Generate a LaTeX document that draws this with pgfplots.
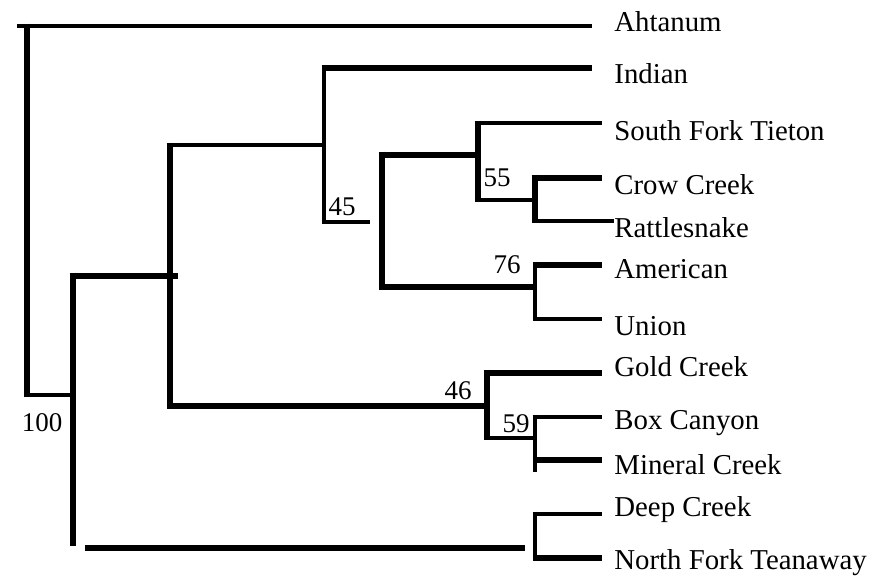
\documentclass[border=0pt]{standalone}
\usepackage{pgfplots}
\pgfplotsset{compat=1.18}
\usepackage{fontspec}
\setmainfont{Liberation Serif}
\begin{document}
\begin{tikzpicture}
\begin{axis}[
  scale only axis, width=440.5pt, height=290pt,
  xmin=0, xmax=881, ymin=0, ymax=580, y dir=reverse,
  axis line style={draw=none}, ticks=none, clip=false,
  tk/.style={black, line width=3.4pt, line cap=butt},
  tn/.style={black, line width=2.4pt, line cap=butt},
]
% root
\addplot[tn] coordinates {(17,26) (592,26)};
\addplot[tk] coordinates {(27,23.6) (27,397.4)};
\addplot[tn] coordinates {(23.6,395) (73,395)};
\addplot[tk] coordinates {(73,272.6) (73,546)};
\addplot[tk] coordinates {(69.6,276) (178,276)};
\addplot[tk] coordinates {(85,548) (525,548)};
% upper clade
\addplot[tk] coordinates {(170,142.6) (170,409.4)};
\addplot[tn] coordinates {(166.6,145) (324,145)};
\addplot[tn] coordinates {(324,64.6) (324,224.4)};
\addplot[tk] coordinates {(321.6,68) (592,68)};
\addplot[tn] coordinates {(321.6,222) (370,222)};
\addplot[tk] coordinates {(382,151.6) (382,290.4)};
\addplot[tk] coordinates {(378.6,155) (478,155)};
\addplot[tk] coordinates {(478,120.6) (478,202.4)};
\addplot[tn] coordinates {(474.6,123) (602,123)};
\addplot[tn] coordinates {(474.6,200) (535,200)};
\addplot[tk] coordinates {(535,174.6) (535,223.4)};
\addplot[tk] coordinates {(531.6,178) (602,178)};
\addplot[tn] coordinates {(531.6,221) (614,221)};
\addplot[tk] coordinates {(378.6,287) (535,287)};
\addplot[tn] coordinates {(535,261.6) (535,321.4)};
\addplot[tk] coordinates {(532.6,265) (602,265)};
\addplot[tn] coordinates {(532.6,319) (602,319)};
% lower clade
\addplot[tk] coordinates {(166.6,406) (487,406)};
\addplot[tk] coordinates {(487,369.6) (487,440.4)};
\addplot[tk] coordinates {(483.6,373) (602,373)};
\addplot[tn] coordinates {(483.6,438) (535,438)};
\addplot[tn] coordinates {(535,414.6) (535,472)};
\addplot[tn] coordinates {(532.6,417) (602,417)};
\addplot[tk] coordinates {(532.6,460) (602,460)};
\addplot[tn] coordinates {(535,511.6) (535,561.4)};
\addplot[tn] coordinates {(532.6,514) (602,514)};
\addplot[tk] coordinates {(532.6,558) (602,558)};
% taxa labels
\begin{scope}[every node/.style={anchor=west, font=\fontsize{14.4}{16}\selectfont, inner sep=0pt}]
\node at (axis cs:614,22) {Ahtanum};
\node at (axis cs:614,74) {Indian};
\node at (axis cs:614,131) {South Fork Tieton};
\node at (axis cs:614,185) {Crow Creek};
\node at (axis cs:614,228) {Rattlesnake};
\node at (axis cs:614,269) {American};
\node at (axis cs:614,326) {Union};
\node at (axis cs:614,367) {Gold Creek};
\node at (axis cs:614,423) {Box Canyon};
\node at (axis cs:614,465) {Mineral Creek};
\node at (axis cs:614,510) {Deep Creek};
\node at (axis cs:614,563) {North Fork Teanaway};
\end{scope}
% support values
\begin{scope}[every node/.style={anchor=center, font=\fontsize{13.5}{15}\selectfont, inner sep=0pt}]
\node at (axis cs:42,423) {100};
\node at (axis cs:342,207) {45};
\node at (axis cs:497,178) {55};
\node at (axis cs:507,265) {76};
\node at (axis cs:458,391) {46};
\node at (axis cs:516,424) {59};
\end{scope}
\end{axis}
\end{tikzpicture}
\end{document}
